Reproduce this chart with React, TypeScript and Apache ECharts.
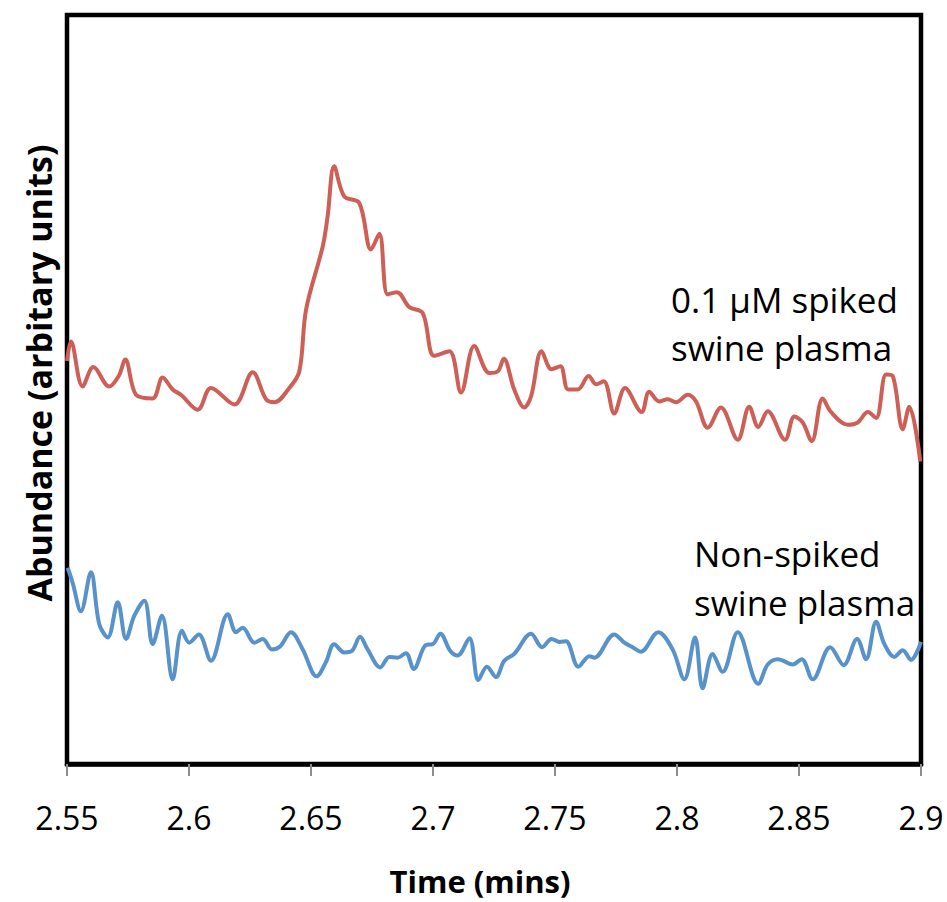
import React, { useEffect, useRef } from "react";
import * as echarts from "echarts";

// Time (mins) and abundance (arbitrary units, 0-100)
const spikedTime = [
  2.55, 2.5516, 2.5564, 2.5608, 2.5673, 2.5712, 2.5739, 2.5783, 2.5851, 2.5892,
  2.5933, 2.5967, 2.6036, 2.609, 2.6186, 2.6261, 2.6316, 2.635, 2.6411, 2.6452,
  2.648, 2.6548, 2.6568, 2.6595, 2.6636, 2.6698, 2.6746, 2.678, 2.6814, 2.6852,
  2.6903, 2.6958, 2.7005, 2.7067, 2.7115, 2.7169, 2.7231, 2.7265, 2.729, 2.7333,
  2.7374, 2.7402, 2.7445, 2.7486, 2.7522, 2.7554, 2.7593, 2.7638, 2.7668, 2.77,
  2.7743, 2.7787, 2.7855, 2.7886, 2.7927, 2.7962, 2.7996, 2.8044, 2.8078, 2.8126,
  2.818, 2.8249, 2.8296, 2.8333, 2.8372, 2.8443, 2.8481, 2.8515, 2.8552, 2.8597,
  2.8631, 2.87, 2.8741, 2.8782, 2.8816, 2.8857, 2.8884, 2.8925, 2.8952, 2.8997,
];
const spikedAbundance = [
  53.8, 56.4, 50.4, 53.0, 50.4, 51.8, 54.0, 49.3, 48.8, 51.6,
  50.0, 49.3, 47.3, 50.2, 48.0, 52.3, 48.7, 48.3, 50.2, 52.4,
  60.7, 69.1, 73.1, 79.8, 75.8, 74.9, 68.7, 70.8, 62.7, 63.0,
  61.0, 60.2, 54.5, 55.1, 49.6, 55.8, 52.2, 52.4, 54.1, 50.0,
  47.6, 49.1, 55.1, 52.7, 53.1, 50.0, 50.0, 51.8, 50.7, 51.1,
  46.8, 50.2, 47.0, 49.7, 48.4, 48.7, 48.3, 49.3, 48.4, 44.9,
  47.6, 43.3, 47.7, 45.0, 47.1, 43.3, 46.4, 45.6, 43.1, 48.8,
  47.0, 45.3, 45.6, 47.0, 46.2, 52.0, 51.8, 44.7, 47.7, 40.4,
];

const nonSpikedTime = [
  2.5503, 2.5523, 2.5557, 2.5598, 2.5632, 2.5667, 2.5708, 2.5742, 2.5776, 2.5817,
  2.5851, 2.5889, 2.5933, 2.5971, 2.6001, 2.604, 2.609, 2.6159, 2.6193, 2.622,
  2.6268, 2.6302, 2.634, 2.6373, 2.6418, 2.6466, 2.6523, 2.6561, 2.6595, 2.6636,
  2.6668, 2.6701, 2.6732, 2.6784, 2.6821, 2.6855, 2.6889, 2.6921, 2.6971, 2.6999,
  2.703, 2.7071, 2.7101, 2.7149, 2.7186, 2.7221, 2.7258, 2.7292, 2.7333, 2.7402,
  2.7447, 2.7486, 2.7518, 2.7545, 2.7596, 2.7641, 2.7661, 2.7743, 2.7784, 2.7818,
  2.7852, 2.7923, 2.7982, 2.803, 2.8074, 2.8105, 2.8146, 2.8187, 2.8249, 2.8333,
  2.8372, 2.8413, 2.8474, 2.8511, 2.8556, 2.8628, 2.8683, 2.8738, 2.8775, 2.8816,
  2.885, 2.8891, 2.8925, 2.8959, 2.9,
];
const nonSpikedAbundance = [
  26.2, 24.2, 20.4, 25.6, 18.7, 16.9, 21.6, 16.7, 19.8, 21.8,
  16.0, 19.8, 11.3, 17.8, 16.2, 17.3, 13.8, 20.0, 17.6, 18.2,
  16.2, 16.7, 15.3, 15.7, 17.6, 15.3, 11.7, 13.6, 16.0, 14.9,
  15.1, 17.0, 15.3, 12.9, 14.3, 14.2, 14.8, 12.7, 15.9, 16.0,
  17.4, 15.1, 14.5, 16.8, 11.2, 13.0, 11.6, 13.8, 14.7, 17.4,
  15.6, 16.7, 16.3, 16.4, 13.0, 14.4, 14.2, 17.3, 16.2, 15.6,
  15.0, 17.6, 15.3, 11.3, 16.9, 10.1, 14.7, 12.3, 17.6, 10.7,
  13.3, 14.0, 13.3, 14.0, 11.3, 15.6, 13.2, 16.7, 14.0, 19.0,
  16.0, 14.3, 15.2, 13.9, 16.3,
];

const xMin = 2.55;
const xMax = 2.9;
const xStep = 0.05;

const spikedLabel = ["0.1 µM spiked", "swine plasma"];
const nonSpikedLabel = ["Non-spiked", "swine plasma"];
const xTitle = "Time (mins)";
const yTitle = "Abundance (arbitary units)";

export default function App() {
  const ref = useRef<HTMLDivElement>(null);

  useEffect(() => {
    if (!ref.current) return;
    const chart = echarts.init(ref.current, null, { renderer: "svg" });
    const font = "'Open Sans', 'Noto Sans', sans-serif";
    const annot = (text: string, x: number, y: number) => ({
      type: "text",
      x,
      y,
      style: {
        text,
        fontFamily: font,
        fontSize: 35,
        fill: "#000",
        align: "left",
        verticalAlign: "middle",
      },
    });
    chart.setOption({
      animation: false,
      backgroundColor: "#ffffff",
      grid: {
        left: 67,
        right: 26,
        top: 15,
        bottom: 138,
        show: true,
        borderColor: "#000000",
        borderWidth: 4.5,
        containLabel: false,
      },
      xAxis: {
        type: "value",
        min: xMin,
        max: xMax,
        interval: xStep,
        axisLine: { show: true, lineStyle: { color: "#000", width: 4.5 } },
        axisTick: {
          show: true,
          inside: false,
          length: 12,
          lineStyle: { color: "#8c8c8c", width: 2 },
        },
        axisLabel: {
          margin: 37,
          fontFamily: font,
          fontSize: 32,
          color: "#000",
          formatter: (v: number) => String(+v.toFixed(2)),
        },
        splitLine: { show: false },
      },
      yAxis: {
        type: "value",
        min: 0,
        max: 100,
        show: false,
        splitLine: { show: false },
      },
      graphic: [
        {
          type: "text",
          x: 39,
          y: 373,
          rotation: Math.PI / 2,
          style: {
            text: yTitle,
            fontFamily: font,
            fontSize: 34,
            fontWeight: "bold",
            fill: "#000",
            align: "center",
            verticalAlign: "middle",
          },
        },
        {
          type: "text",
          x: 480,
          y: 881,
          style: {
            text: xTitle,
            fontFamily: font,
            fontSize: 31,
            fontWeight: "bold",
            fill: "#000",
            align: "center",
            verticalAlign: "middle",
          },
        },
        annot(spikedLabel[0], 671, 299),
        annot(spikedLabel[1], 671, 347),
        annot(nonSpikedLabel[0], 694, 553),
        annot(nonSpikedLabel[1], 694, 602),
      ],
      series: [
        {
          type: "line",
          name: "spiked",
          data: spikedTime.map((t, i) => [t, spikedAbundance[i]]),
          smooth: 0.35,
          showSymbol: false,
          symbol: "none",
          lineStyle: { color: "#CD5F56", width: 4 },
          clip: true,
        },
        {
          type: "line",
          name: "non-spiked",
          data: nonSpikedTime.map((t, i) => [t, nonSpikedAbundance[i]]),
          smooth: 0.35,
          showSymbol: false,
          symbol: "none",
          lineStyle: { color: "#5892CA", width: 4 },
          clip: true,
        },
      ],
    });
    return () => chart.dispose();
  }, []);

  return (
    <div
      ref={ref}
      style={{ position: "fixed", left: 0, top: 0, width: 947, height: 902 }}
    />
  );
}
